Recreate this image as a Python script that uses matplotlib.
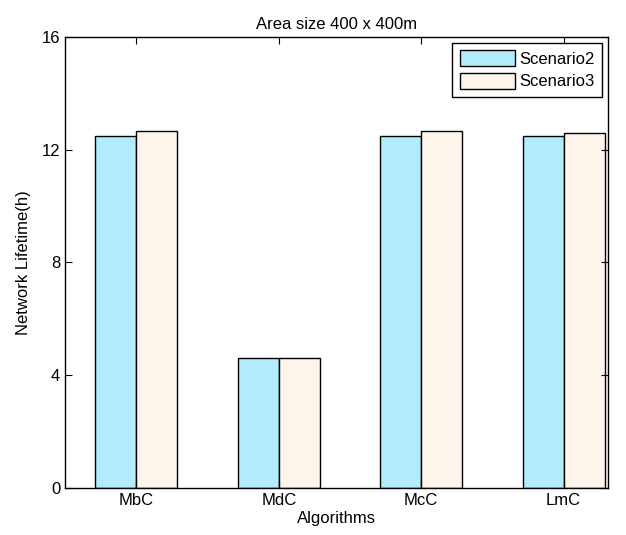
import numpy as np
import matplotlib
matplotlib.use("Agg")
import matplotlib.pyplot as plt

plt.rcParams['font.family'] = ['Liberation Sans', 'DejaVu Sans']

algorithms = ["MbC", "MdC", "McC", "LmC"]
scenario2 = [12.48, 4.6, 12.47, 12.47]
scenario3 = [12.66, 4.6, 12.65, 12.6]

x = np.arange(1, len(algorithms) + 1)
w = 0.287
fs = 12

fig = plt.figure(figsize=(6.26, 5.35), dpi=100)
ax = fig.add_axes([0.104, 0.088, 0.867, 0.843])

ax.bar(x - w / 2, scenario2, w, color="#b0ecfc", edgecolor="black", linewidth=1, label="Scenario2")
ax.bar(x + w / 2, scenario3, w, color="#fdf5ea", edgecolor="black", linewidth=1, label="Scenario3")

ax.set_xlim(0.5, 4.31)
ax.set_ylim(0, 16)
ax.set_xticks(x)
ax.set_xticklabels(algorithms)
ax.set_yticks([0, 4, 8, 12, 16])
ax.tick_params(direction="in", top=True, right=True, labelsize=fs, length=5)
for s in ax.spines.values():
    s.set_linewidth(1)

ax.set_title("Area size 400 x 400m", fontsize=fs)
ax.set_xlabel("Algorithms", fontsize=fs, labelpad=2)
ax.set_ylabel("Network Lifetime(h)", fontsize=fs, labelpad=8)

leg = ax.legend(loc="upper right", fontsize=fs, fancybox=False, framealpha=1,
                edgecolor="black", borderaxespad=0.35, handlelength=3.3, handleheight=1.1,
                handletextpad=0.25, borderpad=0.45, labelspacing=0.35)
leg.get_frame().set_linewidth(1)

fig.savefig("out.png", dpi=100)
